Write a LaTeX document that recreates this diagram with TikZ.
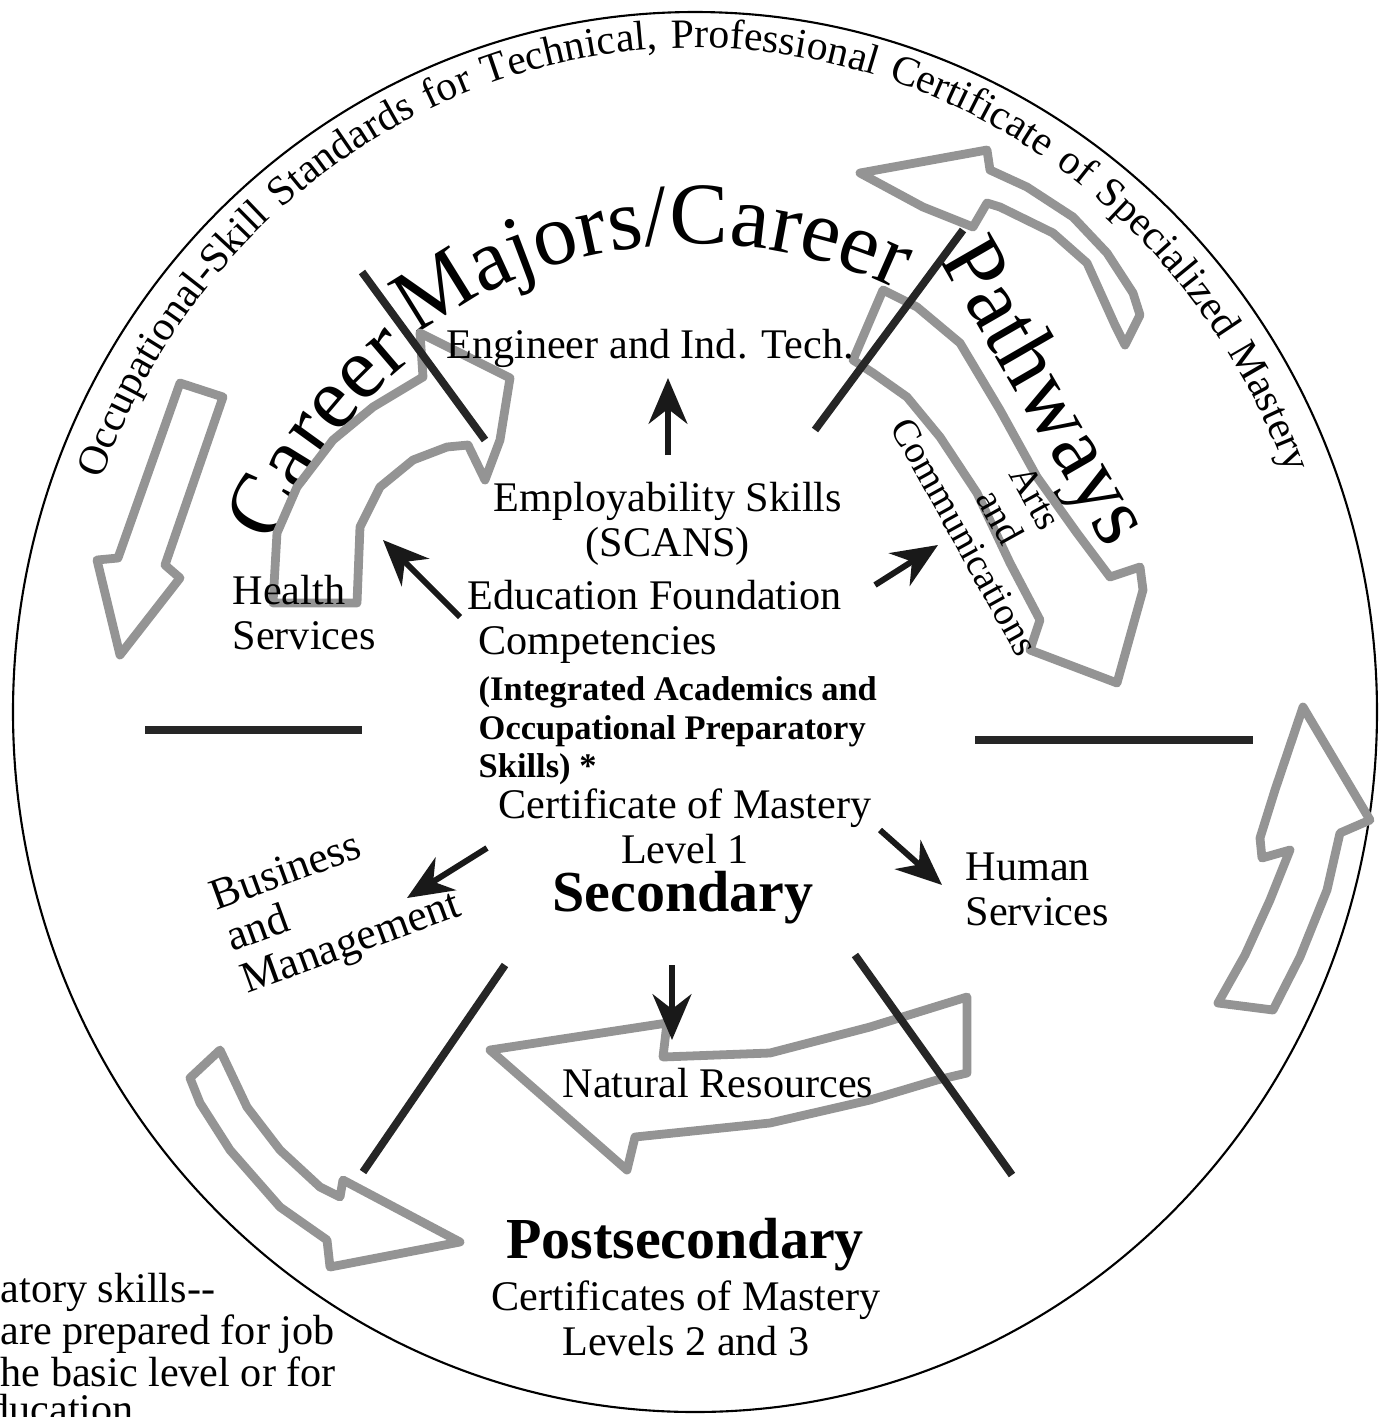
\documentclass[tikz,border=0pt]{standalone}
\usepackage{fontspec}
\setmainfont{Liberation Serif}
\usetikzlibrary{arrows.meta}
\usetikzlibrary{decorations.text}
\usetikzlibrary{positioning}

\tikzset{
  hollow/.style={draw=black!42, line width=2.5pt, line join=round},
  divider/.style={draw=black!85, line width=2.2pt},
  pointer/.style={draw=black!90, line width=1.7pt, -{Stealth[length=13pt,width=11pt]}},
  lbl/.style={font=\fontsize{12}{12.8}\selectfont, inner sep=0pt},
  bigbold/.style={font=\bfseries\fontsize{16.5}{18}\selectfont, inner sep=0pt},
}

\begin{document}
\begin{tikzpicture}[x=0.01cm, y=-0.01cm]
			\useasboundingbox (0,0) rectangle (1379,1417);

			% ring and the text round it
			\draw[line width=0.6pt] (695,712) ellipse [x radius=682, y radius=700];
			\path[decorate, decoration={text along path, text align={fit to path stretching spaces},
				text={|\fontsize{11.85}{14}\selectfont|Occupational-Skill Standards for Technical, Professional Certificate of Specialized Mastery}}]
				(695,712) ++(-159.5:634 and 664) arc[start angle=-159.5, end angle=-21, x radius=634, y radius=664];

			% big words
			\path[decorate, decoration={text along path, text align=center,
				text={|\fontsize{25}{30}\selectfont|Career}}]
				(695,712) ++(-158.5:452) arc[start angle=-158.5, end angle=-128.5, radius=452];
			\path[decorate, decoration={text along path, text align=center,
				text={|\fontsize{25}{30}\selectfont|Majors/Career}}]
				(695,712) ++(-128:468) arc[start angle=-128, end angle=-63, radius=468];
			\node[rotate=-60, font=\fontsize{25}{30}\selectfont, inner sep=0pt] (pathw) at (1041,394) {Pathways};

			% hollow arrows
			\draw[hollow] (180,383) -- (223,397) -- (165,565) -- (180,578) -- (120,655) -- (97,560) -- (118,558) -- cycle;
			\draw[hollow] (273,603) -- (277,533) -- (297,487) -- (333,440) -- (373,407) -- (423,377) -- (420,333) -- (510,378) -- (500,440) -- (485,480) -- (468,445) -- (447,447) -- (413,460) -- (380,487) -- (360,527) -- (357,603) -- cycle;
			\draw[hollow] (860,173) -- (987,150) -- (990,170) -- (1027,187) -- (1073,217) -- (1107,253) -- (1133,293) -- (1140,315) -- (1125,345) -- (1115,325) -- (1087,263) -- (1053,233) -- (1000,207) -- (987,203) -- (973,227) -- (923,207) -- cycle;
			\draw[hollow] (883,290) -- (917,307) -- (960,343) -- (1000,410) -- (1037,477) -- (1077,533) -- (1110,577) -- (1140,567) -- (1143,590) -- (1117,683) -- (1030,650) -- (1040,620) -- (1010,563) -- (977,493) -- (940,437) -- (907,397) -- (873,373) -- (853,360) -- cycle;
			\draw[hollow] (1303,707) -- (1370,820) -- (1340,833) -- (1327,890) -- (1300,957) -- (1273,1010) -- (1218,1003) -- (1245,955) -- (1270,900) -- (1290,850) -- (1262,858) -- (1260,838) -- (1275,790) -- cycle;
			\draw[hollow] (490,1050) -- (667,1023) -- (663,1057) -- (770,1053) -- (870,1027) -- (967,997) -- (967,1073) -- (937,1080) -- (870,1100) -- (770,1123) -- (635,1137) -- (627,1170) -- cycle;
			\draw[hollow] (190,1078) -- (220,1050) -- (247,1107) -- (280,1150) -- (320,1187) -- (340,1197) -- (343,1180) -- (460,1242) -- (330,1267) -- (327,1240) -- (280,1207) -- (230,1150) -- (200,1103) -- cycle;

			% sector dividers
			\draw[divider] (485,440) -- (362,272);
			\draw[divider] (963,230) -- (815,430);
			\draw[divider] (145,730) -- (362,730);
			\draw[divider] (975,740) -- (1253,740);
			\draw[divider] (505,965) -- (363,1172);
			\draw[divider] (855,955) -- (1012,1175);

			% centre block
			\node[lbl] (eng) at (650,348) {Engineer and Ind. Tech.};
			\node[lbl, align=center] (employ) at (668,524) {Employability Skills\\(SCANS)};
			\node[lbl, align=left, anchor=west] (found) at (467,622) {Education Foundation\\\hspace*{3pt}Competencies};
			\node[align=left, anchor=west, inner sep=0pt, font=\bfseries\fontsize{9.8}{11}\selectfont] (integ) at (478,731) {(Integrated Academics and\\Occupational Preparatory\\Skills) *};
			\node[lbl, align=center] (cert1) at (685,826) {Certificate of Mastery\\Level 1};
			\node[bigbold] (sec) at (683,898) {Secondary};

			% the six pathways
			\node[lbl, align=left, anchor=west] (health) at (232,613) {Health\\Services};
			\node[lbl, align=left, anchor=west] (human) at (965,889) {Human\\Services};
			\node[align=left, anchor=west, rotate=20, inner sep=0pt, font=\fontsize{12.5}{12.6}\selectfont] (bus) at (228,943) {Business\\and\\Management};
			\node[align=center, rotate=-61, inner sep=0pt, font=\fontsize{11}{11.5}\selectfont] (arts) at (1000,517) {Arts\\and\\Communications};
			\node[lbl] (natural) at (718,1083) {Natural Resources};

			% postsecondary
			\node[bigbold] (post) at (685,1245) {Postsecondary};
			\node[lbl, align=center] (cert23) at (686,1318) {Certificates of Mastery\\Levels 2 and 3};

			% cut-off note
			\node[align=left, anchor=north west, inner sep=0pt, font=\fontsize{12}{10.5}\selectfont] (note) at (0,1272) {atory skills-{}-\\are prepared for job\\he basic level or for\\\hspace*{-3.5pt}ducation.};

			% arrows out of the centre
			\coordinate (engT) at (668,455);   \coordinate (engH) at (668,378);
			\coordinate (healthT) at (460,617); \coordinate (healthH) at (383,540);
			\coordinate (artsT) at (875,585);  \coordinate (artsH) at (938,545);
			\coordinate (busT) at (487,848);   \coordinate (busH) at (407,898);
			\coordinate (humanT) at (880,830); \coordinate (humanH) at (942,885);
			\coordinate (natT) at (672,965);   \coordinate (natH) at (672,1040);

			\draw[pointer] (engT) -- (engH);
			\draw[pointer] (healthT) -- (healthH);
			\draw[pointer] (artsT) -- (artsH);
			\draw[pointer] (busT) -- (busH);
			\draw[pointer] (humanT) -- (humanH);
			\draw[pointer] (natT) -- (natH);
		\end{tikzpicture}
\end{document}
